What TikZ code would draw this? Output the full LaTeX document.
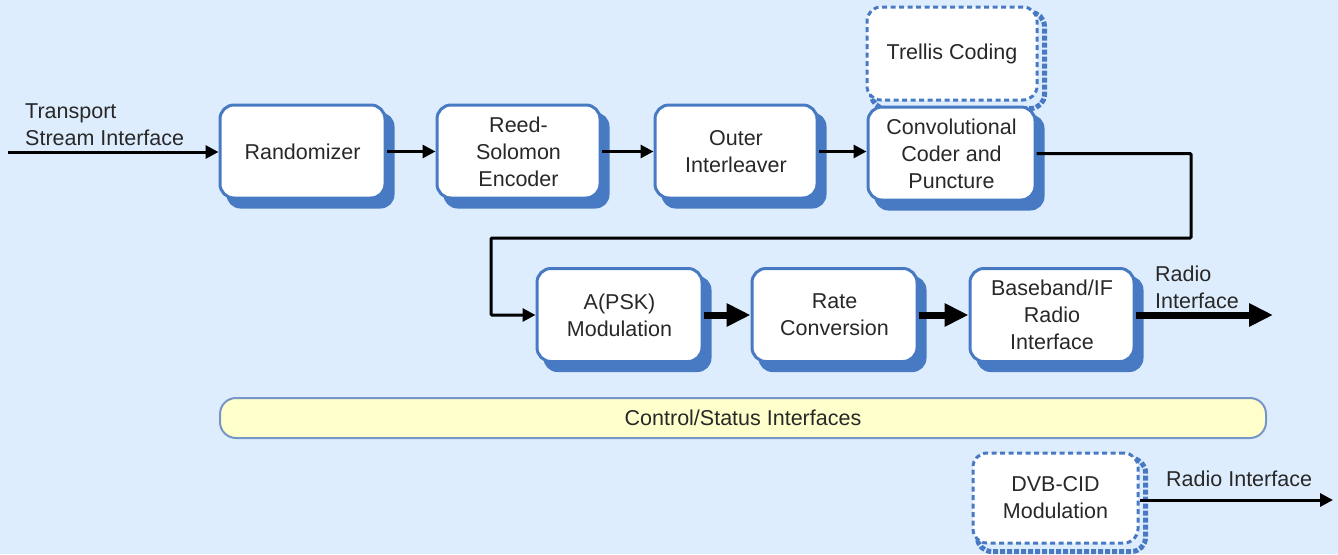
\documentclass[tikz,border=0pt]{standalone}
\usepackage{fontspec}
\setmainfont{Liberation Sans}
\usetikzlibrary{arrows.meta,calc}
\pgfdeclarelayer{shadowlayer}
\pgfsetlayers{shadowlayer,main}
\definecolor{bgblue}{RGB}{222,237,253}
\definecolor{boxblue}{RGB}{72,122,196}
\definecolor{barfill}{RGB}{255,255,204}
\definecolor{barline}{RGB}{118,150,200}
\definecolor{txt}{RGB}{40,40,40}
\tikzset{
  blockbox/.style={draw=boxblue, line width=3pt, fill=white, rounded corners=14pt,
    minimum width=165pt, minimum height=93pt, align=center, text=txt,
    font=\fontsize{21.5}{27}\selectfont},
  optbox/.style={blockbox, dashed, dash pattern=on 5pt off 3.5pt},
  thinarrow/.style={line width=3pt, -{Triangle[length=13pt,width=13pt]}},
  thickarrow/.style={line width=7pt, -{Triangle[length=24pt,width=22pt]}},
  lbl/.style={text=txt, align=left, font=\fontsize{21.5}{27}\selectfont, inner sep=0pt},
}
\newcommand{\solidshadow}[1]{%
  \begin{pgfonlayer}{shadowlayer}
    \fill[boxblue, rounded corners=14pt] ($(#1.south west)+(8,9)$) rectangle ($(#1.north east)+(8,9)$);
  \end{pgfonlayer}}
\newcommand{\dashshadow}[1]{%
  \begin{pgfonlayer}{shadowlayer}
    \draw[boxblue, line width=5pt, dash pattern=on 5pt off 2pt, rounded corners=14pt] ($(#1.south west)+(6,7)$) rectangle ($(#1.north east)+(6,7)$);
  \end{pgfonlayer}}
\begin{document}
\begin{tikzpicture}[x=1pt,y=-1pt]
\begin{pgfonlayer}{shadowlayer}
\fill[bgblue] (0,0) rectangle (1338,554);
\end{pgfonlayer}
\useasboundingbox (0,0) rectangle (1338,554);

\node[blockbox] (rand) at (302.5,151.5) {Randomizer};
\node[blockbox, minimum width=163pt] (rs) at (518.5,151.5) {Reed-\\Solomon\\Encoder};
\node[blockbox, minimum width=162pt] (oi) at (736,151.5) {Outer\\Interleaver};
\node[blockbox, minimum width=167pt] (conv) at (951.5,153.5) {Convolutional\\Coder and\\Puncture};
\node[optbox, minimum width=170pt] (trel) at (952,53.5) {Trellis Coding};
\node[blockbox] (apsk) at (619.5,315) {A(PSK)\\Modulation};
\node[blockbox] (rate) at (834.5,315) {Rate\\Conversion};
\node[blockbox, minimum width=164pt] (bb) at (1052,315) {Baseband/IF\\Radio\\Interface};
\node[optbox, minimum width=165pt, minimum height=90pt] (dvb) at (1055.5,498) {DVB-CID\\Modulation};

\solidshadow{rand}\solidshadow{rs}\solidshadow{oi}\solidshadow{conv}
\solidshadow{apsk}\solidshadow{rate}\solidshadow{bb}
\dashshadow{trel}\dashshadow{dvb}

\node[draw=barline, line width=2pt, fill=barfill, rounded corners=16pt,
  minimum width=1046pt, minimum height=40pt, text=txt,
  font=\fontsize{21.5}{27}\selectfont] (bar) at (743,418) {Control/Status Interfaces};

\coordinate (in) at (8,152);
\coordinate (c1) at (1191,238);
\coordinate (c2) at (491,238);
\coordinate (out1) at (1273,315);
\coordinate (out2) at (1333,500);

\node[lbl, anchor=south west] (tlbl) at (25,146) {Transport\\Stream Interface};
\node[lbl, anchor=south west] (rlbl) at (1155,309) {Radio\\Interface};
\node[lbl, anchor=south west] (rlbl2) at (1166,487) {Radio Interface};

\draw[thinarrow] (in) -- (rand.west |- in);
\draw[thinarrow] (rand.east) -- (rs.west);
\draw[thinarrow] (rs.east) -- (oi.west);
\draw[thinarrow] (oi.east) -- (oi.east -| conv.west);
\draw[thinarrow, rounded corners=1pt] (conv.east) -| (c1) -- (c2) |- (apsk.west);
\draw[thickarrow] (apsk.east) -- (rate.west);
\draw[thickarrow] (rate.east) -- (bb.west);
\draw[thickarrow] (bb.east) -- (out1);
\draw[thinarrow] (dvb.east |- out2) -- (out2);
\end{tikzpicture}
\end{document}
